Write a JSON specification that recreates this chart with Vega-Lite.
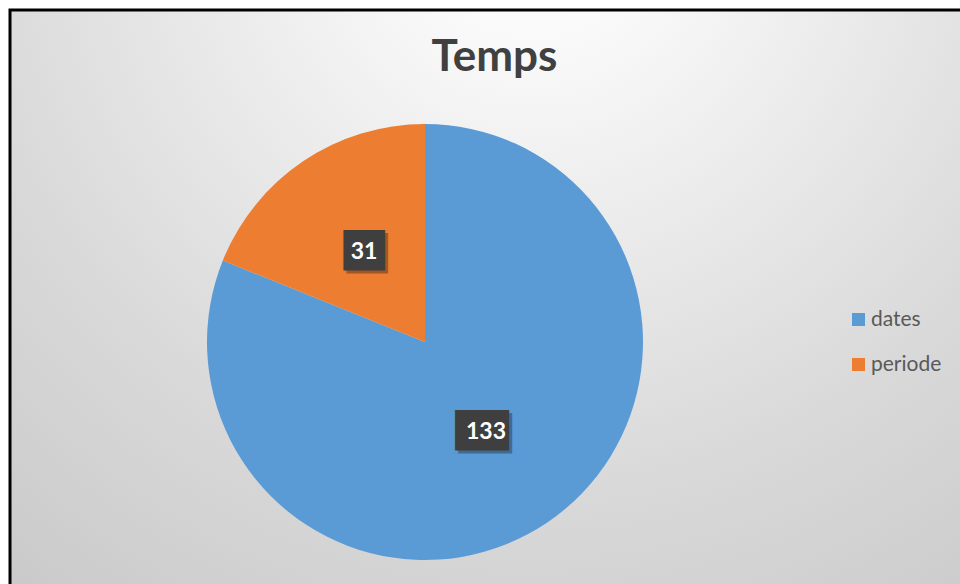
{
  "$schema": "https://vega.github.io/schema/vega-lite/v6.json",
  "width": 953,
  "height": 577,
  "autosize": {"type": "none"},
  "padding": {"left": 10, "top": 10, "right": -3, "bottom": -3},
  "background": "#ffffff",
  "view": {
    "stroke": "#000000",
    "strokeWidth": 3,
    "fill": {
      "gradient": "radial",
      "x1": 0.55, "y1": 0.1, "r1": 0,
      "x2": 0.55, "y2": 0.1, "r2": 1,
      "stops": [
        {"offset": 0, "color": "#ffffff"},
        {"offset": 0.15, "color": "#f8f8f8"},
        {"offset": 0.6, "color": "#d9d9d9"},
        {"offset": 1, "color": "#c4c4c4"}
      ]
    }
  },
  "title": {
    "text": "Temps",
    "font": "Lato",
    "fontSize": 44,
    "fontWeight": "bold",
    "color": "#404040",
    "anchor": "middle",
    "baseline": "alphabetic",
    "offset": -63,
    "dx": 8,
    "dy": 42
  },
  "data": {
    "values": [
      {"category": "dates", "value": 133},
      {"category": "periode", "value": 31}
    ]
  },
  "encoding": {
    "theta": {"field": "value", "type": "quantitative", "stack": true},
    "order": {"field": "category", "type": "ordinal", "sort": "ascending"},
    "detail": {"field": "category", "type": "nominal"}
  },
  "layer": [
    {
      "mark": {"type": "arc", "outerRadius": 218, "x": 415, "y": 332},
      "encoding": {
        "color": {
          "field": "category",
          "type": "nominal",
          "scale": {"domain": ["dates", "periode"], "range": ["#5B9BD5", "#ED7D31"]},
          "legend": {
            "title": null,
            "orient": "none",
            "legendX": 838,
            "legendY": 299,
            "padding": 0,
            "symbolType": "square",
            "symbolSize": 169,
            "symbolStrokeWidth": 0,
            "symbolOpacity": 1,
            "labelFont": "Lato",
            "labelFontSize": 21,
            "labelColor": "#595959",
            "labelOffset": 2,
            "rowPadding": 23
          }
        }
      }
    },
    {
      "mark": {"type": "text", "radius": 109, "x": 418, "y": 335, "font": "DejaVu Sans Mono", "fontSize": 34, "color": "#000000", "opacity": 0.3, "baseline": "middle", "align": "center"},
      "encoding": {
        "text": {"condition": {"test": "datum.value >= 100", "value": "██▋"}, "value": "██"}
      }
    },
    {
      "mark": {"type": "text", "radius": 109, "x": 415, "y": 332, "font": "DejaVu Sans Mono", "fontSize": 34, "color": "#3f3f3f", "baseline": "middle", "align": "center"},
      "encoding": {
        "text": {"condition": {"test": "datum.value >= 100", "value": "██▋"}, "value": "██"}
      }
    },
    {
      "mark": {"type": "text", "radius": 109, "x": 415, "y": 332, "font": "Lato", "fontSize": 23, "fontWeight": "bold", "color": "#ffffff", "baseline": "middle", "align": "center"},
      "encoding": {
        "text": {"field": "value", "type": "quantitative"}
      }
    }
  ]
}
